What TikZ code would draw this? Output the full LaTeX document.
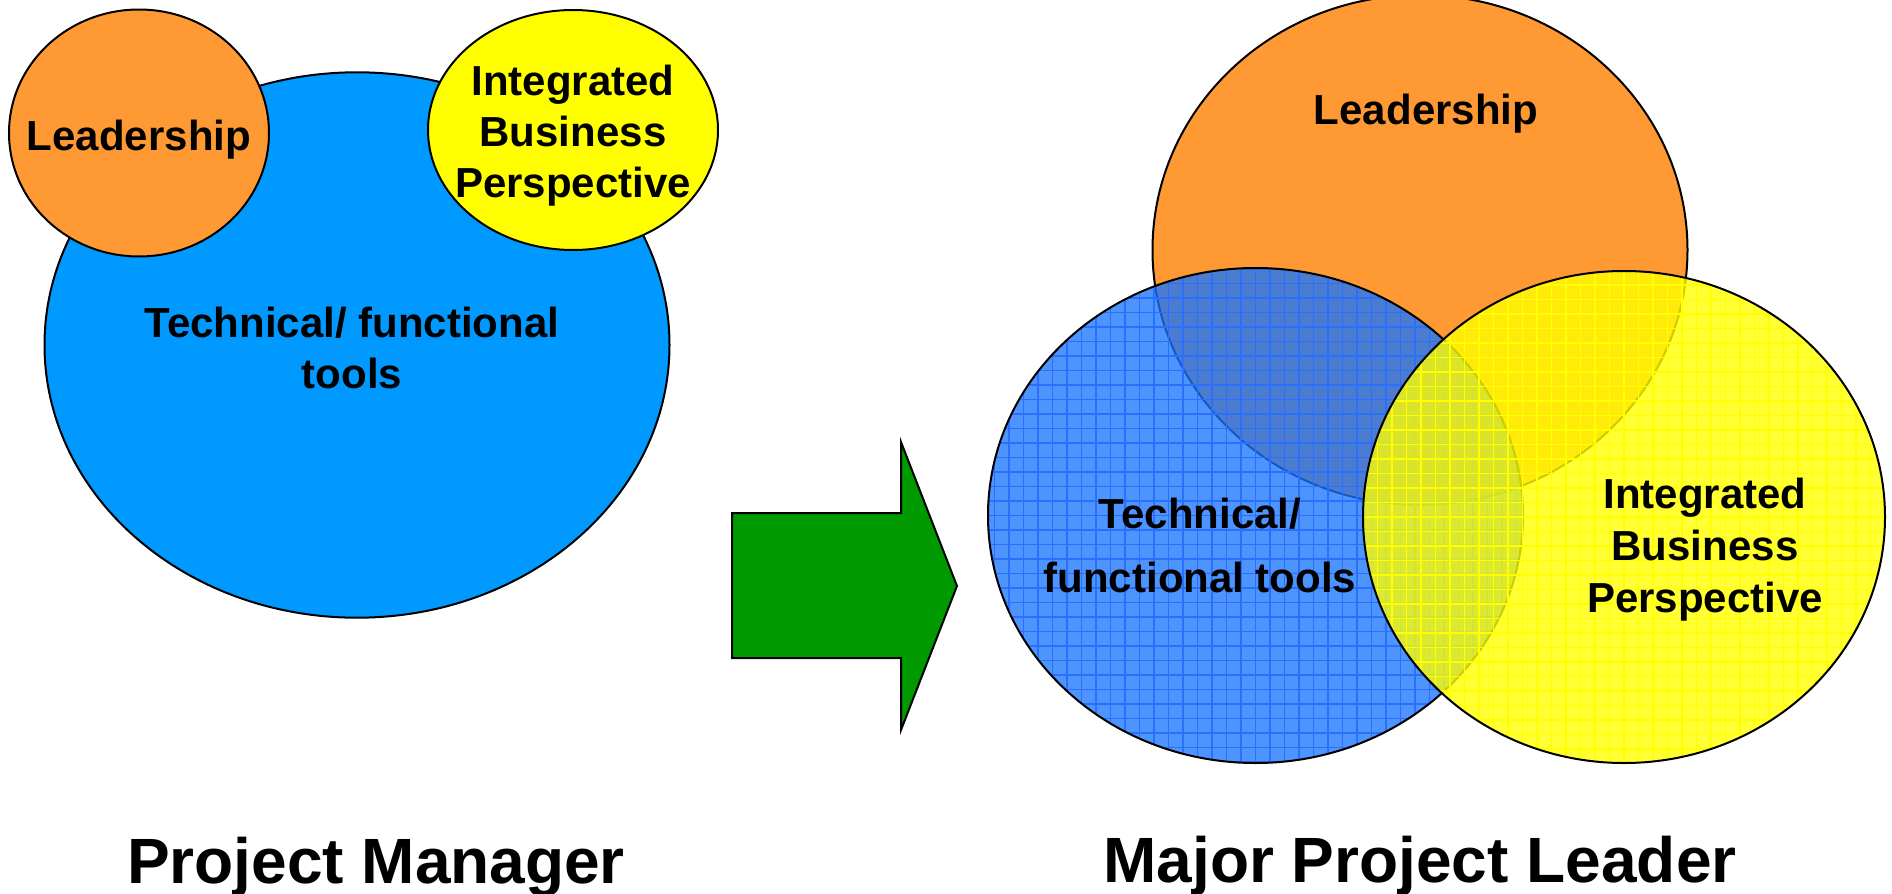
\documentclass[tikz,border=0pt]{standalone}
\usepackage{fontspec}
\setmainfont{Liberation Sans}
\usetikzlibrary{shapes.geometric}
\definecolor{techblue}{HTML}{0099FF}
\definecolor{leadorange}{HTML}{FF9933}
\definecolor{ibpyellow}{HTML}{FFFF00}
\definecolor{arrowgreen}{HTML}{009900}
\definecolor{gblue}{HTML}{1774FF}
\definecolor{gridblue}{HTML}{2A70FF}
\definecolor{gridyellow}{HTML}{FFFF00}
\begin{document}
\begin{tikzpicture}[x=0.5pt,y=-0.5pt,
  bubble/.style={ellipse, draw=black, line width=1pt, inner sep=0pt, outer sep=0pt},
  lbl/.style={font=\fontsize{21}{25.5}\selectfont\bfseries, align=center, inner sep=0pt},
  bigtitle/.style={font=\fontsize{32}{38}\selectfont\bfseries, anchor=base, inner sep=0pt},
  bluegrid/.style={path picture={\draw[gridblue, line width=0.55pt]
      (path picture bounding box.south west) grid[step=7.25pt] (path picture bounding box.north east);}},
  yellowgrid/.style={path picture={\draw[gridyellow, line width=0.55pt]
      (path picture bounding box.south west) grid[step=7.25pt] (path picture bounding box.north east);}}
]
\useasboundingbox (0,0) rectangle (1892,894);

% left: Project Manager
\node[bubble, fill=techblue, minimum width=312.5pt, minimum height=272.7pt] (pmtech) at (357,345) {};
\node[bubble, fill=leadorange, minimum width=130pt, minimum height=123.5pt] (pmlead) at (139,133) {};
\node[bubble, fill=ibpyellow, minimum width=145pt, minimum height=120pt] (pmibp) at (573,130) {};

\node[lbl] (pmleadt) at (139,140) {Leadership};
\node[lbl] (pmibpt) at (573,136) {Integrated\\Business\\Perspective};
\node[lbl] (pmtecht) at (352,348) {Technical/ functional\\tools};

% arrow
\draw[fill=arrowgreen, line width=1pt, line join=miter]
  (732,513) -- (901,513) -- (901,442) -- (957,586) -- (901,730) -- (901,658) -- (732,658) -- cycle;

% right: Major Project Leader
\node[bubble, fill=leadorange, minimum width=267.5pt, minimum height=255pt] (mlead) at (1420,250) {};
\node[bubble, fill=gblue, fill opacity=0.77, bluegrid, minimum width=267.5pt, minimum height=247.5pt] (mtech) at (1255.5,515.5) {};
\node[bubble, fill=ibpyellow, fill opacity=0.8, yellowgrid, minimum width=261pt, minimum height=246pt] (mibp) at (1624,517) {};

\node[lbl] (mleadt) at (1426,114) {Leadership};
\node[lbl, font=\fontsize{21}{32}\selectfont\bfseries] (mtecht) at (1200,545) {Technical/\\functional tools};
\node[lbl, font=\fontsize{21}{26}\selectfont\bfseries] (mibpt) at (1705,550) {Integrated\\Business\\Perspective};

% titles
\node[bigtitle] (pmtitle) at (376,883) {Project Manager};
\node[bigtitle] (mtitle) at (1420,882) {Major Project Leader};
\end{tikzpicture}
\end{document}
